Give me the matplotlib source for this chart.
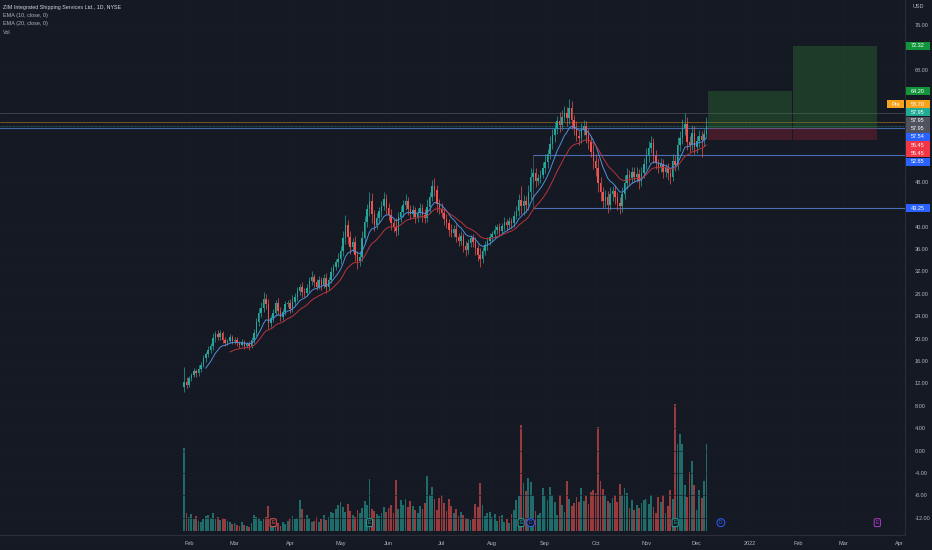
import matplotlib.pyplot as plt
import matplotlib.transforms as mtransforms
from matplotlib.patches import Rectangle
import numpy as np
import pandas as pd

plt.rcParams['font.family'] = ['Liberation Sans', 'DejaVu Sans']

BG = '#151924'
TXT = '#b2b5be'
UP = '#26a69a'
DOWN = '#ef5350'

# NYSE calendar used by the chart (trading days only)
holidays = ['2021-02-15', '2021-04-02', '2021-05-31', '2021-07-05', '2021-09-06',
            '2021-11-25', '2021-12-24', '2022-01-17', '2022-02-21', '2022-04-15']
cal = pd.bdate_range('2021-01-28', '2022-04-29', freq='C', holidays=holidays)

# daily closes
c_jan = [12.3, 11.8]
c_feb = [12.9, 13.5, 14.2, 13.8, 14.6, 15.3, 16.5, 17.2, 17.9, 18.6, 20.1, 20.8, 20.2, 21.0,
         19.8, 19.2, 19.6, 20.3, 19.5]
c_mar = [19.8, 19.2, 18.9, 19.4, 18.7, 19.1, 18.6, 19.8, 21.0, 22.9, 24.6, 25.4, 27.1, 26.2,
         22.8, 23.6, 24.5, 26.4, 25.0, 23.9, 24.8, 26.1, 26.4]
c_apr = [25.3, 26.6, 27.4, 28.5, 29.2, 28.4, 28.1, 29.0, 30.2, 31.0, 30.1, 29.3, 30.4, 29.6,
         30.8, 29.2, 30.5, 31.9, 32.8, 33.6, 34.2]
c_may = [35.6, 37.9, 40.2, 38.1, 36.4, 37.2, 35.0, 33.8, 34.6, 37.9, 40.8, 43.1, 44.6, 42.2,
         40.3, 41.5, 42.8, 43.6, 44.9, 43.4]
c_jun = [42.1, 40.6, 40.0, 39.2, 41.8, 42.6, 43.9, 44.6, 43.1, 42.2, 42.9, 41.7, 42.5, 43.3,
         42.0, 41.6, 43.5, 45.2, 47.2, 46.6, 44.1, 43.2]
c_jul = [42.5, 41.3, 40.6, 39.4, 38.9, 39.6, 38.2, 37.5, 38.3, 36.6, 35.8, 37.1, 38.0, 37.2,
         36.1, 35.0, 34.3, 35.6, 36.8, 37.4, 38.1]
c_aug = [38.6, 39.4, 39.9, 39.2, 40.1, 40.8, 40.2, 41.0, 40.6, 41.9, 42.7, 44.8, 43.6, 44.6,
         43.8, 46.1, 48.9, 49.5, 48.2, 48.7, 49.3, 50.4]
c_sep = [51.6, 52.9, 54.8, 56.3, 57.5, 58.9, 58.2, 59.6, 60.3, 59.4, 61.2, 59.0, 57.6, 56.2,
         55.8, 57.4, 57.9, 56.3, 55.1, 53.4, 51.8]
c_oct = [50.4, 47.8, 46.1, 44.6, 45.3, 43.9, 45.8, 46.4, 45.2, 44.3, 43.6, 45.9, 47.8, 49.3,
         48.6, 49.7, 48.9, 49.4, 48.1, 49.6, 51.2]
c_nov = [52.8, 54.1, 54.9, 52.6, 51.3, 50.6, 51.2, 49.8, 50.4, 49.5, 48.9, 51.8, 51.0, 54.6,
         55.8, 57.6, 58.4, 55.1, 54.6, 56.8, 54.3]
c_dec = [55.2, 56.1, 55.4, 56.6, 57.95]
first_open = 11.4

# wick extents above / below the body
w_up = [2.6, 0.8,
        0.5, 0.4, 0.6, 0.3, 0.7, 0.5, 0.6, 0.4, 0.8, 0.6, 0.9, 0.5, 0.7, 0.6, 0.4, 0.5, 0.3, 0.6, 0.4,
        0.5, 0.4, 0.3, 0.6, 0.4, 0.3, 0.5, 0.4, 0.8, 0.7, 0.9, 1.1, 1.2, 0.8, 0.9, 0.6, 0.7, 0.5, 0.8,
        0.6, 0.4, 0.7, 0.5,
        0.6, 1.2, 0.7, 0.8, 0.5, 0.9, 0.6, 0.7, 0.8, 1.0, 0.6, 0.5, 0.8, 0.6, 0.7, 0.9, 0.5, 0.8, 0.6,
        0.7, 1.1,
        1.0, 1.3, 1.8, 0.9, 1.1, 0.8, 1.2, 0.7, 1.0, 1.3, 1.1, 0.9, 1.6, 1.4, 0.8, 1.0, 0.7, 0.9, 1.2, 1.0,
        0.9, 1.1, 0.7, 1.5, 0.8, 1.0, 0.9, 1.2, 0.7, 0.8, 1.0, 0.6, 0.8, 0.9, 0.7, 1.1, 1.4, 1.0, 1.2,
        1.4, 0.9, 0.8,
        1.0, 0.8, 0.9, 0.7, 1.1, 0.6, 0.8, 0.7, 0.9, 0.6, 0.8, 0.7, 0.5, 0.6, 0.9, 0.8, 1.2, 0.7, 0.6,
        0.8, 0.7,
        0.6, 0.8, 0.5, 0.7, 0.6, 0.9, 0.5, 0.7, 0.6, 0.8, 0.9, 1.0, 2.4, 1.1, 0.9, 1.3, 1.5, 0.8, 0.9,
        0.7, 0.8, 1.2,
        1.3, 1.0, 1.4, 1.2, 1.1, 0.9, 1.5, 1.2, 1.3, 1.0, 1.6, 1.2, 0.9, 1.3, 1.0, 1.1, 1.2, 0.9, 1.1,
        1.0, 1.3,
        1.2, 1.8, 1.1, 0.9, 1.2, 1.0, 1.3, 0.8, 1.1, 0.9, 1.0, 1.2, 1.4, 1.1, 0.8, 1.0, 0.9, 1.2, 0.8,
        1.1, 1.0,
        1.3, 1.1, 1.2, 0.9, 1.0, 0.8, 1.1, 0.9, 0.8, 1.0, 0.7, 1.2, 1.0, 1.4, 1.3, 1.6, 1.8, 1.2, 1.0,
        1.3, 1.1,
        1.0, 1.2, 0.9, 0.8, 1.7]
w_dn = [0.9, 0.7,
        0.4, 0.5, 0.3, 0.6, 0.4, 0.5, 0.3, 0.6, 0.5, 0.4, 0.6, 0.7, 0.5, 0.4, 0.6, 0.5, 0.4, 0.3, 0.5,
        0.4, 0.5, 0.6, 0.3, 0.5, 0.4, 0.6, 0.3, 0.5, 0.6, 0.7, 0.8, 0.6, 0.9, 1.1, 0.7, 0.6, 0.5, 0.7,
        0.8, 0.5, 0.6, 0.4,
        0.7, 0.5, 0.8, 0.6, 0.7, 0.9, 0.6, 0.5, 0.7, 0.6, 0.8, 0.7, 0.5, 0.9, 0.6, 1.0, 0.5, 0.6, 0.7,
        0.6, 0.8,
        0.9, 0.8, 1.0, 1.2, 1.3, 0.9, 1.1, 1.4, 0.8, 0.7, 1.0, 0.9, 1.2, 1.5, 1.1, 0.8, 0.9, 1.0, 0.7, 1.2,
        1.0, 1.2, 0.9, 0.8, 0.7, 1.0, 0.8, 0.9, 1.1, 0.8, 0.7, 1.0, 0.9, 0.8, 1.1, 0.9, 0.8, 1.0, 0.7,
        1.2, 1.5, 0.9,
        0.8, 1.0, 0.9, 1.1, 0.8, 0.7, 1.0, 0.9, 0.8, 1.1, 1.0, 0.7, 0.8, 0.9, 1.2, 1.1, 1.6, 0.8, 0.7,
        0.9, 0.6,
        0.7, 0.6, 0.8, 0.9, 0.5, 0.7, 0.8, 0.6, 0.9, 0.7, 0.6, 0.8, 1.4, 1.6, 1.2, 0.9, 1.1, 1.0, 1.2,
        0.8, 0.9, 0.7,
        0.9, 1.1, 0.8, 1.0, 1.2, 0.9, 1.3, 1.0, 0.8, 1.4, 1.1, 1.5, 1.2, 1.0, 1.3, 0.9, 1.1, 1.4, 1.2,
        1.0, 1.5,
        1.4, 1.6, 1.5, 1.3, 1.1, 1.5, 1.0, 1.2, 1.1, 1.3, 1.4, 1.0, 0.9, 1.1, 1.2, 0.8, 1.0, 0.9, 1.3,
        0.8, 1.0,
        1.0, 1.2, 0.9, 1.3, 1.1, 1.0, 0.8, 1.2, 0.9, 1.1, 1.3, 0.8, 1.0, 0.9, 1.1, 1.0, 1.3, 1.4, 1.2,
        1.0, 1.3,
        1.1, 0.9, 3.0, 1.0, 0.8]

# volume (millions)
vol = [8.4, 1.8,
       1.4, 1.7, 1.2, 1.5, 1.0, 0.9, 1.2, 1.5, 1.6, 1.3, 1.8, 1.2, 1.4, 1.1, 1.3, 1.2, 1.0, 0.9, 0.7,
       0.8, 0.6, 0.5, 0.9, 0.6, 0.5, 0.4, 0.8, 1.6, 1.4, 1.3, 1.0, 1.2, 1.4, 2.5, 1.1, 0.9, 1.2, 0.8,
       0.5, 0.9, 0.7, 1.0,
       1.3, 1.5, 1.2, 1.3, 3.1, 2.2, 1.2, 1.6, 1.3, 0.9, 1.0, 1.4, 0.9, 1.2, 1.6, 1.1, 1.4, 1.9, 1.8,
       2.2, 2.6,
       2.9, 2.4, 1.9, 2.7, 2.0, 1.6, 1.4, 2.1, 1.8, 2.3, 3.0, 2.6, 5.2, 2.2, 2.0, 1.7, 1.5, 1.8, 2.4, 1.9,
       2.3, 2.6, 1.8, 5.1, 2.2, 3.1, 2.6, 3.2, 2.4, 3.0, 2.5, 2.1, 1.8, 2.5, 2.2, 2.8, 5.5, 3.6, 4.4,
       3.2, 2.1, 3.3,
       3.6, 2.8, 2.0, 3.2, 2.5, 1.8, 2.2, 1.5, 1.9, 1.6, 1.3, 1.2, 1.1, 1.2, 2.7, 2.4, 4.8, 2.6, 1.5,
       1.8, 1.9,
       1.4, 1.7, 1.0, 1.5, 1.6, 0.9, 1.2, 0.8, 1.7, 2.1, 3.1, 3.5, 10.7, 4.8, 4.0, 5.3, 4.9, 3.5, 2.0,
       1.6, 1.8, 4.3,
       3.5, 3.1, 4.4, 3.6, 2.9, 1.6, 3.6, 2.6, 1.9, 5.0, 3.2, 2.5, 2.8, 3.4, 2.9, 4.3, 3.0, 3.6, 2.7,
       3.9, 4.1,
       3.8, 10.5, 5.0, 4.2, 3.6, 3.0, 2.8, 3.3, 3.6, 2.9, 4.7, 3.6, 4.3, 3.8, 2.3, 3.1, 2.1, 2.6, 2.3,
       2.8, 3.1,
       3.2, 2.7, 3.6, 2.4, 1.8, 3.4, 2.9, 3.6, 1.8, 2.5, 4.1, 3.2, 12.8, 8.8, 9.8, 8.8, 4.6, 3.4, 5.9,
       7.1, 4.6,
       2.1, 4.1, 3.3, 5.0, 8.8]

# drawn levels and long-position tool
entry, stop = 57.54, 55.45
targets = [64.20, 72.32]
box_len = 35
pre_price = 58.70
last_price = 57.95
upper_ray = 60.30
ray_levels = [52.85, 43.25]
ray_start = '2021-08-25'

# right-scale labels: (value, background)
scale_labels = [(72.32, '#12953a'), (64.20, '#12953a'), (58.70, '#f7a21b'),
                (57.95, '#22ab94'), (57.95, '#50535e'), (57.95, '#50535e'),
                (57.54, '#2962ff'), (55.45, '#f23645'), (55.45, '#f23645'),
                (52.85, '#2962ff'), (43.25, '#2962ff')]

events = [('2021-03-23', 'E', '#ef5350'), ('2021-05-19', 'E', '#26a69a'),
          ('2021-08-18', 'E', '#26a69a'), ('2021-08-24', 'D', '#2962ff'),
          ('2021-11-17', 'E', '#26a69a'), ('2021-12-15', 'D', '#2962ff'),
          ('2022-03-21', 'E', '#b03cc8')]

close = np.array(c_jan + c_feb + c_mar + c_apr + c_may + c_jun + c_jul + c_aug + c_sep
                 + c_oct + c_nov + c_dec)
n = len(close)
x = np.arange(n)
opn = np.r_[first_open, close[:-1]]
top = np.maximum(opn, close)
bot = np.minimum(opn, close)
high = top + np.array(w_up)
low = bot - np.array(w_dn)
up = close >= opn
cols = np.where(up, UP, DOWN)

ema10 = pd.Series(close).ewm(span=10, adjust=False).mean().values
ema20 = pd.Series(close).ewm(span=20, adjust=False).mean().values
ema10[:9] = np.nan
ema20[:19] = np.nan

W, H = 932, 550
fig = plt.figure(figsize=(W / 100, H / 100), dpi=100, facecolor=BG)
ax = fig.add_axes([0, 15 / H, 905 / W, 535 / H], facecolor=BG)

# volume on its own scale at the bottom (twin made first, price ticks then go right)
axv = ax.twinx()
vmax = max(vol)
span = vmax * 535 / 127
axv.set_ylim(-4 / 535 * span, -4 / 535 * span + span)
axv.bar(x, vol, width=0.75, color=cols, alpha=0.6, linewidth=0)
axv.set_yticks([])
for s in axv.spines.values():
    s.set_visible(False)
axv.set_zorder(ax.get_zorder() - 1)
axv.patch.set_visible(False)
ax.patch.set_visible(False)

ax.set_xlim(-76.5, 299.5)
ax.set_ylim(-15.07, 80.46)

# month ticks from the trading calendar
months = pd.Series(np.arange(len(cal)), index=cal)
first_days = months.groupby([cal.year, cal.month]).min()
tick_pos, tick_lab = [], []
for (yy, mm), p in first_days.items():
    if yy == 2021 and mm == 1:
        continue
    tick_pos.append(p)
    tick_lab.append(str(yy) if mm == 1 else pd.Timestamp(yy, mm, 1).strftime('%b'))
ax.set_xticks(tick_pos)
ax.set_xticklabels(tick_lab)
ax.yaxis.tick_right()
ax.yaxis.set_label_position('right')
ax.tick_params(axis='both', length=0, labelsize=4, colors=TXT)
ax.tick_params(axis='y', pad=7)
ax.tick_params(axis='x', pad=4)
ax.set_axisbelow(True)
ax.grid(True, color='#191d28', lw=0.5)
for s in ['top', 'left']:
    ax.spines[s].set_visible(False)
for s in ['right', 'bottom']:
    ax.spines[s].set_color('#2a2e39')
    ax.spines[s].set_linewidth(0.8)

# horizontal levels
ax.axhline(upper_ray, color='#434651', lw=0.6, zorder=1.6)
ax.axhline(pre_price, color='#f7a21b', lw=0.5, alpha=0.6, zorder=1.6)
ax.axhline(last_price, color='#22ab94', lw=0.5, ls=(0, (1, 1)), alpha=0.8, zorder=1.6)
ax.axhline(entry, color='#4a6fb5', lw=0.8, alpha=0.9, zorder=1.6)
rs = cal.get_loc(pd.Timestamp(ray_start))
for lv in ray_levels:
    ax.hlines(lv, rs, 400, color='#4a6fb5', lw=0.8, zorder=1.6)
ax.vlines(rs, min(ray_levels), max(ray_levels), color='#50535e', lw=0.6, zorder=1.6)

# long position boxes
x0 = n - 0.5
for t in targets:
    ax.add_patch(Rectangle((x0, entry), box_len, t - entry, fc='#2e7d32', alpha=0.35,
                           ec='none', zorder=2))
    ax.add_patch(Rectangle((x0, stop), box_len, entry - stop, fc='#a82436', alpha=0.32,
                           ec='none', zorder=2))
    x0 += box_len + 0.5

# candles
ax.vlines(x, low, high, colors=cols, lw=0.5, zorder=3)
body = np.maximum(top - bot, 0.12)
ax.bar(x, body, bottom=bot, width=0.62, color=cols, linewidth=0, zorder=3)
ax.plot(x, ema10, color='#4f8fdc', lw=0.7, zorder=4)
ax.plot(x, ema20, color='#b83440', lw=0.7, zorder=4)

# earnings / dividend markers
tb = mtransforms.blended_transform_factory(ax.transData, ax.transAxes)
for d, letter, c in events:
    xi = cal.get_loc(pd.Timestamp(d))
    style = 'circle,pad=0.3' if letter == 'D' else 'round,pad=0.3'
    ax.text(xi, 0.023, letter, transform=tb, ha='center', va='center', fontsize=3.5,
            color=c, zorder=6,
            bbox=dict(boxstyle=style, fc=BG, ec=c, lw=0.7))

# right scale labels, stacked so they don't overlap (display px)
gap = 8.2
ys = [ax.transData.transform((0, v))[1] for v, _ in scale_labels]
groups = [[i] for i in range(len(ys))]


def place(g):
    c = np.mean([ys[i] for i in g])
    k = len(g)
    return [c + gap * ((k - 1) / 2 - j) for j in range(k)]


changed = True
while changed:
    changed = False
    for gi in range(len(groups) - 1):
        a, b = place(groups[gi]), place(groups[gi + 1])
        if a[-1] - b[0] < gap:
            groups[gi] = groups[gi] + groups[gi + 1]
            del groups[gi + 1]
            changed = True
            break
pos = {}
for g in groups:
    for i, p in zip(g, place(g)):
        pos[i] = p

# price ticks, leaving out the ones hidden under a coloured label
yt = [v for v in np.arange(-12, 77, 4)
      if min(abs(ax.transData.transform((0, v))[1] - p) for p in pos.values()) > 5]
ax.set_yticks(yt)
ax.set_yticklabels([f'{v:.2f}' for v in yt])

for i, (v, c) in enumerate(scale_labels):
    yf = pos[i] / H
    fig.add_artist(Rectangle((906 / W, yf - 4 / H), 24 / W, 8 / H, transform=fig.transFigure,
                             fc=c, ec='none', zorder=5))
    fig.text(918 / W, yf, f'{v:.2f}', ha='center', va='center', fontsize=4, color='white',
             zorder=6)
    if v == pre_price:
        fig.add_artist(Rectangle((887 / W, yf - 4 / H), 17 / W, 8 / H, transform=fig.transFigure,
                                 fc=c, ec='none', zorder=5))
        fig.text(895.5 / W, yf, 'Pre', ha='center', va='center', fontsize=4, color='white',
                 zorder=6)

fig.text(918 / W, 1 - 6 / H, 'USD', ha='center', va='center', fontsize=4, color=TXT)

# legend
legend_lines = ['ZIM Integrated Shipping Services Ltd., 1D, NYSE', 'EMA (10, close, 0)',
                'EMA (20, close, 0)', 'Vol']
for k, s in enumerate(legend_lines):
    fig.text(3 / W, 1 - (7 + 8.5 * k) / H, s, ha='left', va='center', fontsize=3.9,
             color='#d1d4dc' if k == 0 else TXT)

fig.savefig('out.png', dpi=100, facecolor=BG)
